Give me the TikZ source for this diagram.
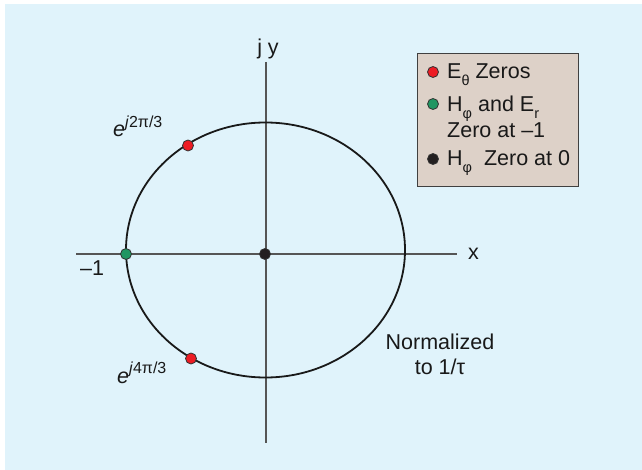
\documentclass[tikz,border=0pt]{standalone}
\usepackage{fontspec}
\setmainfont{Liberation Sans}
\definecolor{bgblue}{RGB}{224,243,251}
\definecolor{legtan}{RGB}{221,209,200}
\definecolor{dotred}{RGB}{237,28,36}
\definecolor{dotgreen}{RGB}{32,150,98}
\definecolor{dotblack}{RGB}{35,31,32}
\definecolor{axisgray}{RGB}{85,85,85}
\newcommand{\lsub}[1]{\raisebox{-0.28em}{\fontsize{14.5}{14.5}\selectfont #1}}
\newcommand{\lsup}[1]{\raisebox{0.42em}{\fontsize{16}{16}\selectfont #1}}
\begin{document}
\begin{tikzpicture}[x=1pt,y=-1pt,
  lbl/.style={inner sep=0pt,font=\fontsize{21.5}{25}\selectfont,text=black!90},
  zerodot/.style={circle,draw=black!80,line width=0.8pt,minimum size=11pt,inner sep=0pt},
  axisline/.style={draw=axisgray,line width=1.4pt},
  curve/.style={draw=black!90,line width=1.8pt}]
\useasboundingbox (0,0) rectangle (642,470);
\fill[bgblue] (5,4) rectangle (642,470);
% axes
\coordinate (xl) at (76,254);
\coordinate (xr) at (457,254);
\coordinate (yt) at (266,62);
\coordinate (yb) at (266,443);
\draw[axisline] (xl) -- (xr);
\draw[axisline] (yt) -- (yb);
% circle
\coordinate (c) at (265.5,250);
\draw[curve] (c) ellipse [x radius=139.5, y radius=127.5];
% zeros
\node[zerodot,fill=dotred] (z1) at (188,145.5) {};
\node[zerodot,fill=dotred] (z2) at (191,358.5) {};
\node[zerodot,fill=dotgreen] (z3) at (126,254) {};
\node[zerodot,fill=dotblack] (z0) at (265,254) {};
% axis labels
\node[lbl,anchor=base west] (lx) at (468,260) {x};
\node[lbl,anchor=base] (ly) at (268,55) {j y};
\node[lbl,anchor=base west] (lm1) at (80,276) {–1};
\node[lbl,anchor=base west] (e1) at (113,137) {\textit{e}\lsup{\textit{j}2π/3}};
\node[lbl,anchor=base west] (e2) at (117,383) {\textit{e}\lsup{\textit{j}4π/3}};
\node[lbl,anchor=base,align=center] (norm) at (440,374) {Normalized\\to 1/τ};
% legend
\node[draw=black!75,line width=0.8pt,fill=legtan,minimum width=161pt,minimum height=133pt,anchor=north west,inner sep=0pt] (leg) at (417,53) {};
\node[zerodot,fill=dotred] (l1) at (433,72) {};
\node[zerodot,fill=dotgreen] (l2) at (433,104) {};
\node[zerodot,fill=dotblack] (l3) at (433,159) {};
\node[lbl,anchor=base west] (t1) at (447,79) {E\lsub{θ} Zeros};
\node[lbl,anchor=base west] (t2) at (447,112) {H\lsub{φ} and E\lsub{r}};
\node[lbl,anchor=base west] (t2b) at (447,138) {Zero at –1};
\node[lbl,anchor=base west] (t3) at (447,166) {H\lsub{φ}\ \ Zero at 0};
\end{tikzpicture}
\end{document}
